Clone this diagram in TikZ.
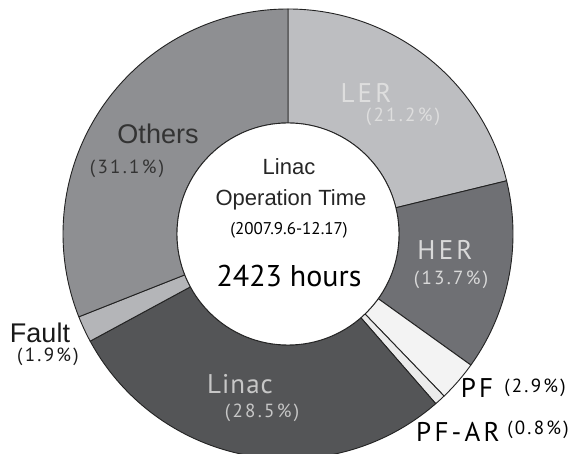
\documentclass[tikz,border=0pt]{standalone}
\usepackage{fontspec}
\setmainfont{Liberation Sans}
\newfontfamily\myr{PT Sans}
\newfontfamily\myrs[LetterSpace=12]{PT Sans}
\newfontfamily\myrt[LetterSpace=4]{PT Sans}
\newfontfamily\myrp[LetterSpace=12]{PT Sans}
\definecolor{cLER}{HTML}{BDBEC1}
\definecolor{cHER}{HTML}{6F7074}
\definecolor{cPF}{HTML}{F3F3F3}
\definecolor{cPFAR}{HTML}{EBEBEB}
\definecolor{cLinac}{HTML}{545557}
\definecolor{cFault}{HTML}{B4B5B8}
\definecolor{cOthers}{HTML}{8E8F92}
\definecolor{edge}{HTML}{222222}
\tikzset{
  seg/.style={draw=edge, line width=0.9pt, line join=round},
  hv/.style={inner sep=0pt, anchor=base, font=\fontsize{27}{30}\selectfont},
  hvs/.style={inner sep=0pt, anchor=base, font=\fontsize{22}{26}\selectfont},
  lab/.style={inner sep=0pt, anchor=base, font=\fontsize{27}{30}\myrs},
  labt/.style={inner sep=0pt, anchor=base, font=\fontsize{27}{30}\myrt},
  pct/.style={inner sep=0pt, anchor=base, font=\fontsize{19}{21}\myrp},
}
\newcommand\ringseg[3]{%
  \filldraw[seg, fill=#3] (#1:225) arc[start angle=#1, end angle=#2, radius=225]
    -- (#2:111) arc[start angle=#2, end angle=#1, radius=111] -- cycle;}
\begin{document}
\begin{tikzpicture}[x=1pt,y=1pt]
\useasboundingbox (0,0) rectangle (572,454);
\clip (0,0) rectangle (572,454);
\fill[white] (0,0) rectangle (572,454);
\begin{scope}[shift={(288,220)}]
\ringseg{90}{13.68}{cLER}
\ringseg{13.68}{-35.64}{cHER}
\ringseg{-35.64}{-46.08}{cPF}
\ringseg{-46.08}{-48.96}{cPFAR}
\ringseg{-48.96}{-151.56}{cLinac}
\ringseg{-151.56}{-158.4}{cFault}
\ringseg{-158.4}{-270}{cOthers}
\draw[edge, line width=0.9pt, fill=white] (0,0) circle[radius=111];
\end{scope}
% centre text
\node[hvs, text=black!85] (t1) at (289,279) {Linac};
\node[hvs, text=black!85] (t2) at (291,248) {Operation Time};
\node[inner sep=0pt, anchor=base, font=\fontsize{17}{19}\myr] (t3) at (289,219) {(2007.9.6-12.17)};
\node[inner sep=0pt, anchor=base, font=\fontsize{30}{32}\myr] (t4) at (289,167) {2423 hours};
% segment labels
\node[lab, text=white!87!black] (ler) at (366,351) {LER};
\node[pct, text=white!87!black] (lerp) at (403,332) {(21.2\%)};
\node[lab, text=white!85!black] (her) at (445,194) {HER};
\node[pct, text=white!85!black] (herp) at (451,169) {(13.7\%)};
\node[hv, text=black!80] (oth) at (158,310) {Others};
\node[pct, text=black!80] (othp) at (127,280) {(31.1\%)};
\node[hv, text=black!90] (flt) at (40,111) {Fault};
\node[pct, text=black!90] (fltp) at (48,92) {(1.9\%)};
\node[labt, text=white!78!black] (lin) at (240,60) {Linac};
\node[pct, text=white!78!black] (linp) at (262,36) {(28.5\%)};
\node[lab, text=black] (pf) at (477,56) {PF};
\node[pct, text=black] (pfp) at (535,61) {(2.9\%)};
\node[lab, text=black] (pfar) at (458,12) {PF-AR};
\node[pct, text=black] (pfarp) at (538,19) {(0.8\%)};
\end{tikzpicture}
\end{document}
